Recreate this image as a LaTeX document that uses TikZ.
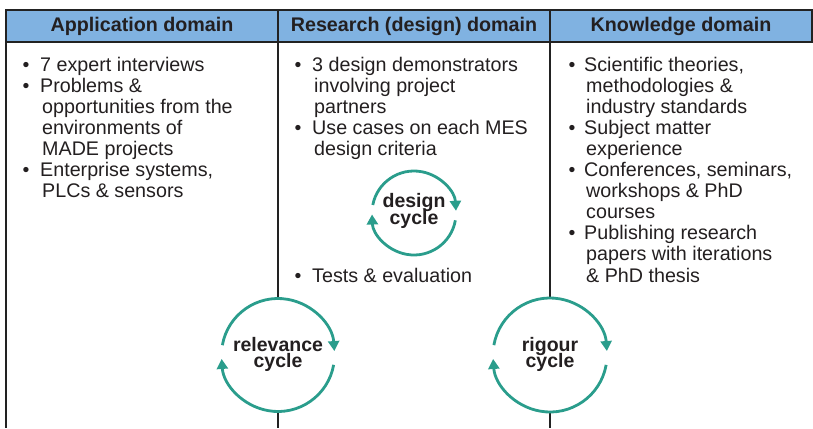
\documentclass[tikz,border=0pt]{standalone}
\usepackage{fontspec}
\setmainfont{Liberation Sans}
\usetikzlibrary{arrows.meta}
\definecolor{hdrblue}{HTML}{80B2E1}
\definecolor{teal}{HTML}{2A9D8C}
\definecolor{ink}{HTML}{231F20}
\definecolor{rule}{HTML}{222222}
\newcommand\tightlines{\lineskiplimit=-30pt\relax\lineskip=0pt\relax}
\begin{document}
\begin{tikzpicture}[x=1pt,y=1pt,
  hdr/.style={draw=rule,line width=1.5pt,fill=hdrblue,minimum height=32pt,inner sep=0pt,outer sep=0pt,anchor=north west,text=ink,font=\bfseries\fontsize{19.7}{21}\selectfont},
  txt/.style={anchor=base west,inner sep=0pt,text=ink,font=\fontsize{19.7}{21.1}\selectfont},
  bul/.style={anchor=base,inner sep=0pt,text=ink,font=\fontsize{19.5}{21.1}\selectfont},
  ring/.style={circle,inner sep=0pt,outer sep=0pt},
  cyctext/.style={align=center,inner sep=0pt,text=ink,font=\bfseries\fontsize{19.5}{16.5}\selectfont\tightlines},
  cycarc/.style={draw=teal,line width=2.8pt,-{Triangle[width=11pt,length=10pt]}},
  divider/.style={draw=rule,line width=1.5pt}
]
\useasboundingbox (0,0) rectangle (813,-428);
% header
\node[hdr,minimum width=272pt] (h1) at (6,-10) {Application domain};
\node[hdr,minimum width=272pt] (h2) at (278,-10) {Research (design) domain};
\node[hdr,minimum width=262pt] (h3) at (550,-10) {Knowledge domain};
\coordinate (bot) at (0,-428);
% cycles
\node[ring,minimum size=113pt] (rel) at (278,-355) {};
\node[cyctext] (relt) at (278,-354.5) {relevance\\cycle};
\node[ring,minimum size=114pt] (rig) at (550,-355) {};
\node[cyctext] (rigt) at (550,-354.5) {rigour\\cycle};
\node[ring,minimum size=84pt] (des) at (414,-213) {};
\node[cyctext] (dest) at (414,-211) {design\\cycle};
% borders and dividers
\draw[divider] (h1.south west) -- (h1.south west |- bot);
\draw[divider] (h2.south west) -- (rel.north);
\draw[divider] (rel.south) -- (rel.south |- bot);
\draw[divider] (h3.south west) -- (rig.north);
\draw[divider] (rig.south) -- (rig.south |- bot);
% cycle arrows
\draw[cycarc] (rel.170) arc[start angle=170,end angle=4,radius=56.5pt];
\draw[cycarc] (rel.-10) arc[start angle=-10,end angle=-176,radius=56.5pt];
\draw[cycarc] (rig.170) arc[start angle=170,end angle=4,radius=57pt];
\draw[cycarc] (rig.-10) arc[start angle=-10,end angle=-176,radius=57pt];
\draw[cycarc] (des.169) arc[start angle=169,end angle=3,radius=42pt];
\draw[cycarc] (des.-10) arc[start angle=-10,end angle=-178,radius=42pt];
% left column
\node[bul] (a0b) at (26,-71) {•};
\node[txt] (a0) at (40,-71) {7 expert interviews};
\node[bul] (a1b) at (26,-92.1) {•};
\node[txt] (a1) at (40,-92.1) {Problems \&};
\node[txt] (a2) at (42,-113.2) {opportunities from the};
\node[txt] (a3) at (42,-134.3) {environments of};
\node[txt] (a4) at (42,-155.4) {MADE projects};
\node[bul] (a5b) at (26,-176.5) {•};
\node[txt] (a5) at (40,-176.5) {Enterprise systems,};
\node[txt] (a6) at (42,-197.6) {PLCs \& sensors};
% middle column
\node[bul] (b0b) at (298,-71) {•};
\node[txt] (b0) at (312,-71) {3 design demonstrators};
\node[txt] (b1) at (314,-92.1) {involving project};
\node[txt] (b2) at (314,-113.2) {partners};
\node[bul] (b3b) at (298,-134.3) {•};
\node[txt] (b3) at (312,-134.3) {Use cases on each MES};
\node[txt] (b4) at (314,-155.4) {design criteria};
\node[bul] (b5b) at (298,-282) {•};
\node[txt] (b5) at (312,-282) {Tests \& evaluation};
% right column
\node[bul] (c0b) at (572,-71) {•};
\node[txt] (c0) at (584,-71) {Scientific theories,};
\node[txt] (c1) at (586,-92.1) {methodologies \&};
\node[txt] (c2) at (586,-113.2) {industry standards};
\node[bul] (c3b) at (572,-134.3) {•};
\node[txt] (c3) at (584,-134.3) {Subject matter};
\node[txt] (c4) at (586,-155.4) {experience};
\node[bul] (c5b) at (572,-176.5) {•};
\node[txt] (c5) at (584,-176.5) {Conferences, seminars,};
\node[txt] (c6) at (586,-197.6) {workshops \& PhD};
\node[txt] (c7) at (586,-218.7) {courses};
\node[bul] (c8b) at (572,-239.8) {•};
\node[txt] (c8) at (584,-239.8) {Publishing research};
\node[txt] (c9) at (586,-260.9) {papers with iterations};
\node[txt] (c10) at (586,-282) {\& PhD thesis};
\end{tikzpicture}
\end{document}
